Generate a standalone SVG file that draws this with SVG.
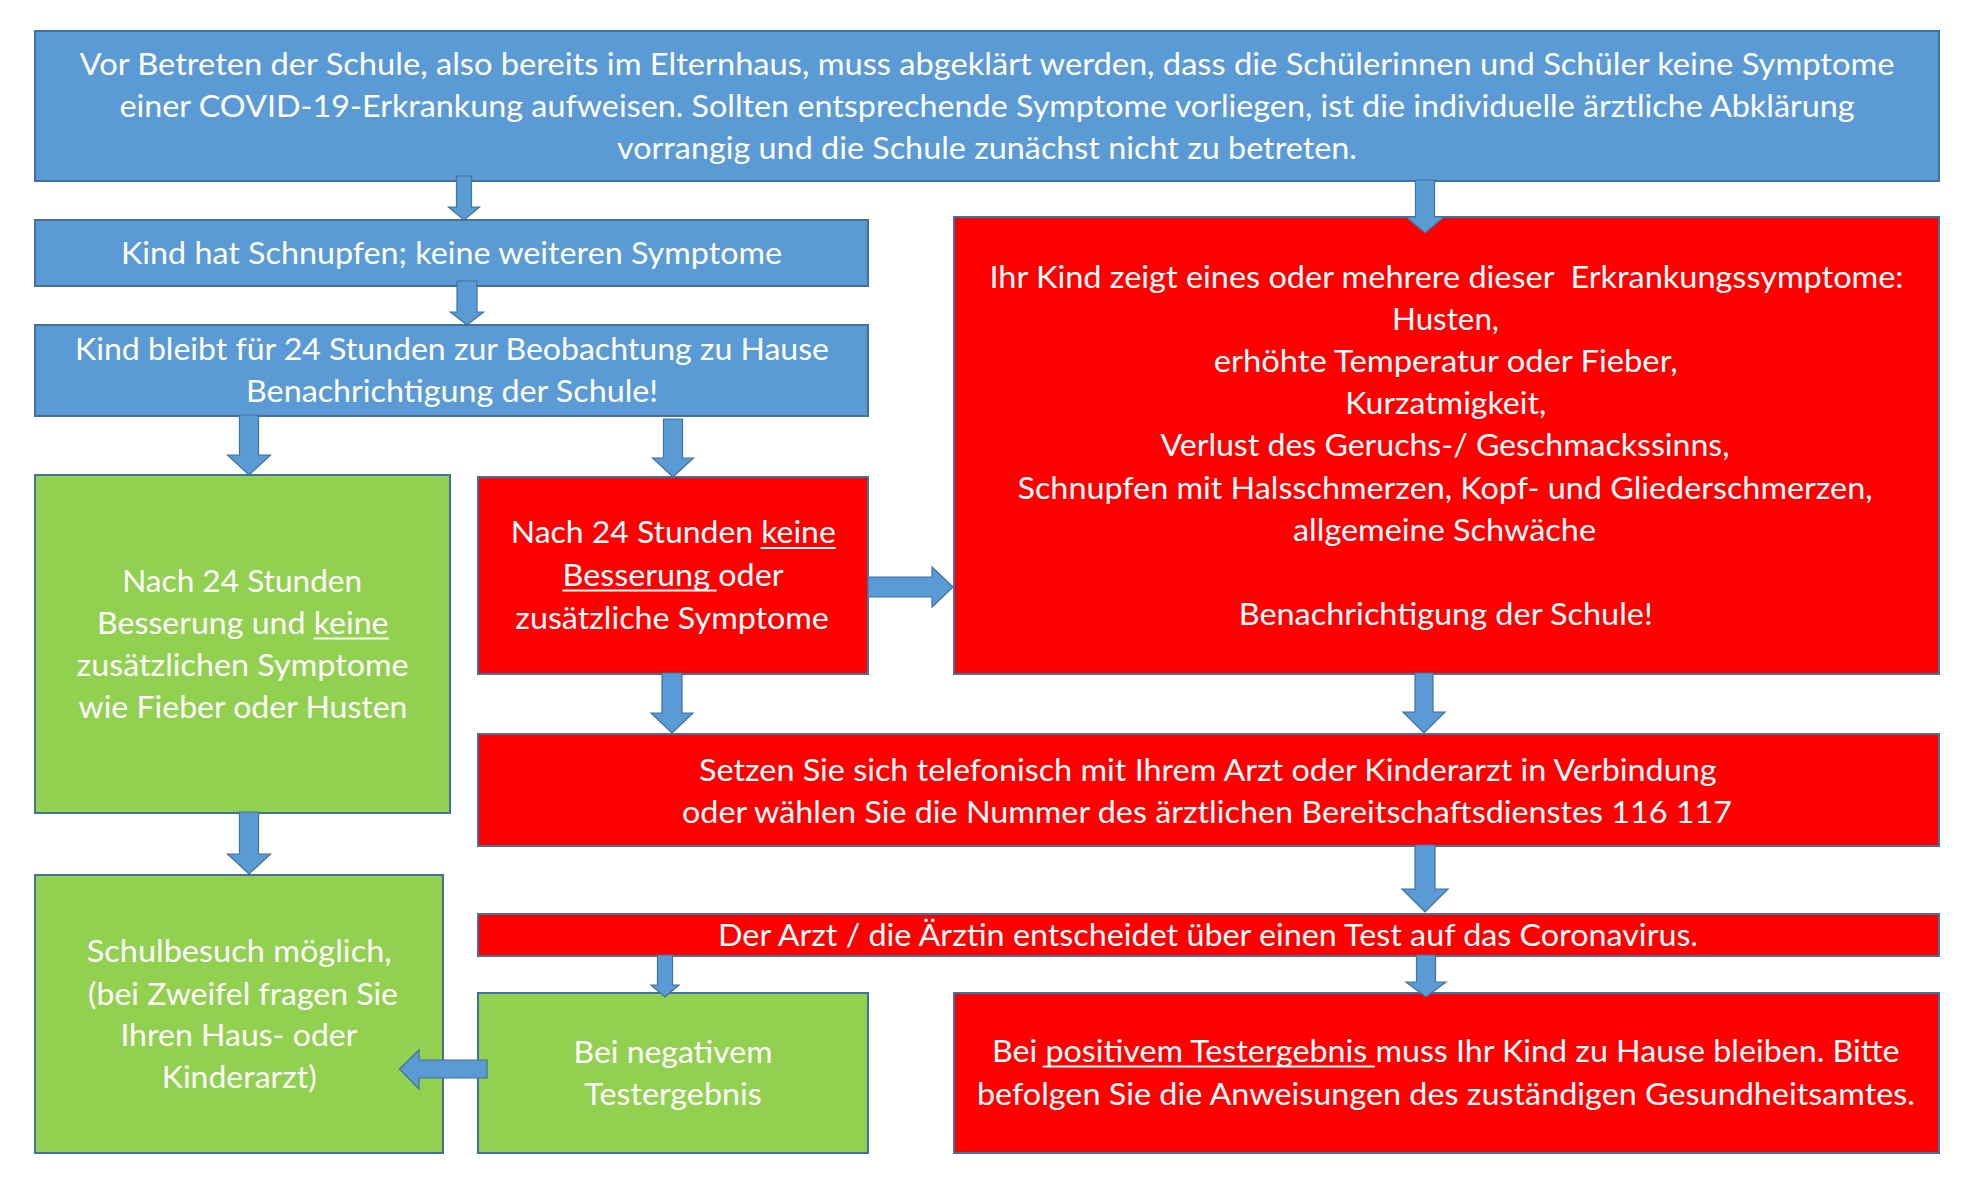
<svg xmlns="http://www.w3.org/2000/svg" width="1966" height="1183" viewBox="0 0 1966 1183">
<style>
.box{stroke:#41719C;stroke-width:2}
.blue{fill:#5B9BD5}
.red{fill:#FF0000}
.green{fill:#92D050}
.arrow{fill:#5B9BD5;stroke:#41719C;stroke-width:1.2}
text{font-family:Lato,"Open Sans","Liberation Sans",sans-serif;font-size:30.5px;fill:#FFFFFF;text-anchor:middle}
.ul{stroke:#FFFFFF;stroke-width:2}
</style>
<rect width="1966" height="1183" fill="#FFFFFF"/>
<g id="node-top">
<rect class="box blue" x="35" y="31" width="1904" height="150"/>
<text x="987" y="75" textLength="1815" lengthAdjust="spacingAndGlyphs">Vor Betreten der Schule, also bereits im Elternhaus, muss abgeklärt werden, dass die Schülerinnen und Schüler keine Symptome</text>
<text x="987" y="117" textLength="1735" lengthAdjust="spacingAndGlyphs">einer COVID-19-Erkrankung aufweisen. Sollten entsprechende Symptome vorliegen, ist die individuelle ärztliche Abklärung</text>
<text x="987" y="158.5" textLength="740" lengthAdjust="spacingAndGlyphs">vorrangig und die Schule zunächst nicht zu betreten.</text>
</g>
<g id="node-schnupfen">
<rect class="box blue" x="35" y="220" width="833" height="66"/>
<text x="451.5" y="263.5" textLength="661" lengthAdjust="spacingAndGlyphs">Kind hat Schnupfen; keine weiteren Symptome</text>
</g>
<g id="node-beobachtung">
<rect class="box blue" x="35" y="325" width="833" height="91"/>
<text x="452" y="359.5" textLength="754" lengthAdjust="spacingAndGlyphs">Kind bleibt für 24 Stunden zur Beobachtung zu Hause</text>
<text x="452" y="401.5" textLength="412" lengthAdjust="spacingAndGlyphs">Benachrichtigung der Schule!</text>
</g>
<g id="node-symptome">
<rect class="box red" x="954" y="217" width="985" height="457"/>
<text x="1446.5" y="288" textLength="914" lengthAdjust="spacingAndGlyphs" xml:space="preserve">Ihr Kind zeigt eines oder mehrere dieser  Erkrankungssymptome:</text>
<text x="1445.5" y="330.1" textLength="107" lengthAdjust="spacingAndGlyphs">Husten,</text>
<text x="1445.7" y="372.2" textLength="464" lengthAdjust="spacingAndGlyphs">erhöhte Temperatur oder Fieber,</text>
<text x="1445.7" y="414.3" textLength="201" lengthAdjust="spacingAndGlyphs">Kurzatmigkeit,</text>
<text x="1445" y="456.4" textLength="569" lengthAdjust="spacingAndGlyphs">Verlust des Geruchs-/ Geschmackssinns,</text>
<text x="1445" y="498.5" textLength="855" lengthAdjust="spacingAndGlyphs">Schnupfen mit Halsschmerzen, Kopf- und Gliederschmerzen,</text>
<text x="1444.5" y="540.6" textLength="303" lengthAdjust="spacingAndGlyphs">allgemeine Schwäche</text>
<text x="1445.7" y="624.8" textLength="414" lengthAdjust="spacingAndGlyphs">Benachrichtigung der Schule!</text>
</g>
<g id="node-besserung">
<rect class="box green" x="35" y="475" width="415" height="338"/>
<text x="242.2" y="592" textLength="240" lengthAdjust="spacingAndGlyphs">Nach 24 Stunden</text>
<text x="242.8" y="634" textLength="291.5" lengthAdjust="spacingAndGlyphs">Besserung und keine</text>
<text x="242.6" y="676" textLength="332" lengthAdjust="spacingAndGlyphs">zusätzlichen Symptome</text>
<text x="243" y="718" textLength="329" lengthAdjust="spacingAndGlyphs">wie Fieber oder Husten</text>
<line class="ul" x1="313.5" y1="638.5" x2="388.7" y2="638.5"/>
</g>
<g id="node-keine-besserung">
<rect class="box red" x="478" y="477" width="390" height="197"/>
<text x="673.3" y="543" textLength="325" lengthAdjust="spacingAndGlyphs">Nach 24 Stunden keine</text>
<text x="673" y="586" textLength="221" lengthAdjust="spacingAndGlyphs">Besserung oder</text>
<text x="672.1" y="629" textLength="313.5" lengthAdjust="spacingAndGlyphs">zusätzliche Symptome</text>
<line class="ul" x1="760.5" y1="548" x2="835.7" y2="548"/>
<line class="ul" x1="562.4" y1="590.5" x2="716.6" y2="590.5"/>
</g>
<g id="node-arzt-anrufen">
<rect class="box red" x="478" y="734" width="1461" height="112"/>
<text x="1207.8" y="780.5" textLength="1017.5" lengthAdjust="spacingAndGlyphs">Setzen Sie sich telefonisch mit Ihrem Arzt oder Kinderarzt in Verbindung</text>
<text x="1207" y="823" textLength="1050" lengthAdjust="spacingAndGlyphs">oder wählen Sie die Nummer des ärztlichen Bereitschaftsdienstes 116 117</text>
</g>
<g id="node-test">
<rect class="box red" x="478" y="914" width="1461" height="42"/>
<text x="1208" y="945.5" textLength="980" lengthAdjust="spacingAndGlyphs">Der Arzt / die Ärztin entscheidet über einen Test auf das Coronavirus.</text>
</g>
<g id="node-schulbesuch">
<rect class="box green" x="35" y="875" width="408" height="278"/>
<text x="239.2" y="961.5" textLength="305" lengthAdjust="spacingAndGlyphs">Schulbesuch möglich,</text>
<text x="243" y="1004.5" textLength="310" lengthAdjust="spacingAndGlyphs">(bei Zweifel fragen Sie</text>
<text x="238.9" y="1046" textLength="237" lengthAdjust="spacingAndGlyphs">Ihren Haus- oder</text>
<text x="239.2" y="1087.5" textLength="155" lengthAdjust="spacingAndGlyphs">Kinderarzt)</text>
</g>
<g id="node-negativ">
<rect class="box green" x="478" y="993" width="390" height="160"/>
<text x="673" y="1062.5" textLength="199" lengthAdjust="spacingAndGlyphs">Bei negativem</text>
<text x="673" y="1105" textLength="177.5" lengthAdjust="spacingAndGlyphs">Testergebnis</text>
</g>
<g id="node-positiv">
<rect class="box red" x="954" y="993" width="985" height="160"/>
<text x="1445.8" y="1062" textLength="907.6" lengthAdjust="spacingAndGlyphs">Bei positivem Testergebnis muss Ihr Kind zu Hause bleiben. Bitte</text>
<text x="1446" y="1104.5" textLength="938" lengthAdjust="spacingAndGlyphs">befolgen Sie die Anweisungen des zuständigen Gesundheitsamtes.</text>
<line class="ul" x1="1042.6" y1="1066.5" x2="1374.8" y2="1066.5"/>
</g>
<g id="connectors">
<polygon class="arrow" points="456.5,176 471.5,176 471.5,207 479.5,207 464,220 448.5,207 456.5,207"/>
<polygon class="arrow" points="457,281 477,281 477,312 483.5,312 467,325 450.5,312 457,312"/>
<polygon class="arrow" points="239.5,415 258.5,415 258.5,455 270.5,455 249,475 227.5,455 239.5,455"/>
<polygon class="arrow" points="663.5,419 682.5,419 682.5,458 693.5,458 673,477 652.5,458 663.5,458"/>
<polygon class="arrow" points="1415.5,180 1434.5,180 1434.5,217 1444,217 1425,233 1406,217 1415.5,217"/>
<polygon class="arrow" points="868,577 932,577 932,567 953,587 932,607 932,597 868,597"/>
<polygon class="arrow" points="662,673 682,673 682,713 693,713 672,733 651,713 662,713"/>
<polygon class="arrow" points="1415,673 1433,673 1433,712 1445,712 1424,733 1403,712 1415,712"/>
<polygon class="arrow" points="239.5,812 258.5,812 258.5,854 270.5,854 249,874 227.5,854 239.5,854"/>
<polygon class="arrow" points="1415,845 1435,845 1435,889 1448,889 1425,912 1402,889 1415,889"/>
<polygon class="arrow" points="657.5,955 672.5,955 672.5,985 679,985 665,997 651,985 657.5,985"/>
<polygon class="arrow" points="1416.5,955 1435.5,955 1435.5,982 1446,982 1426,997 1406,982 1416.5,982"/>
<polygon class="arrow" points="487,1060 419,1060 419,1050 399.5,1069 419,1089 419,1078 487,1078"/>
</g>
</svg>
